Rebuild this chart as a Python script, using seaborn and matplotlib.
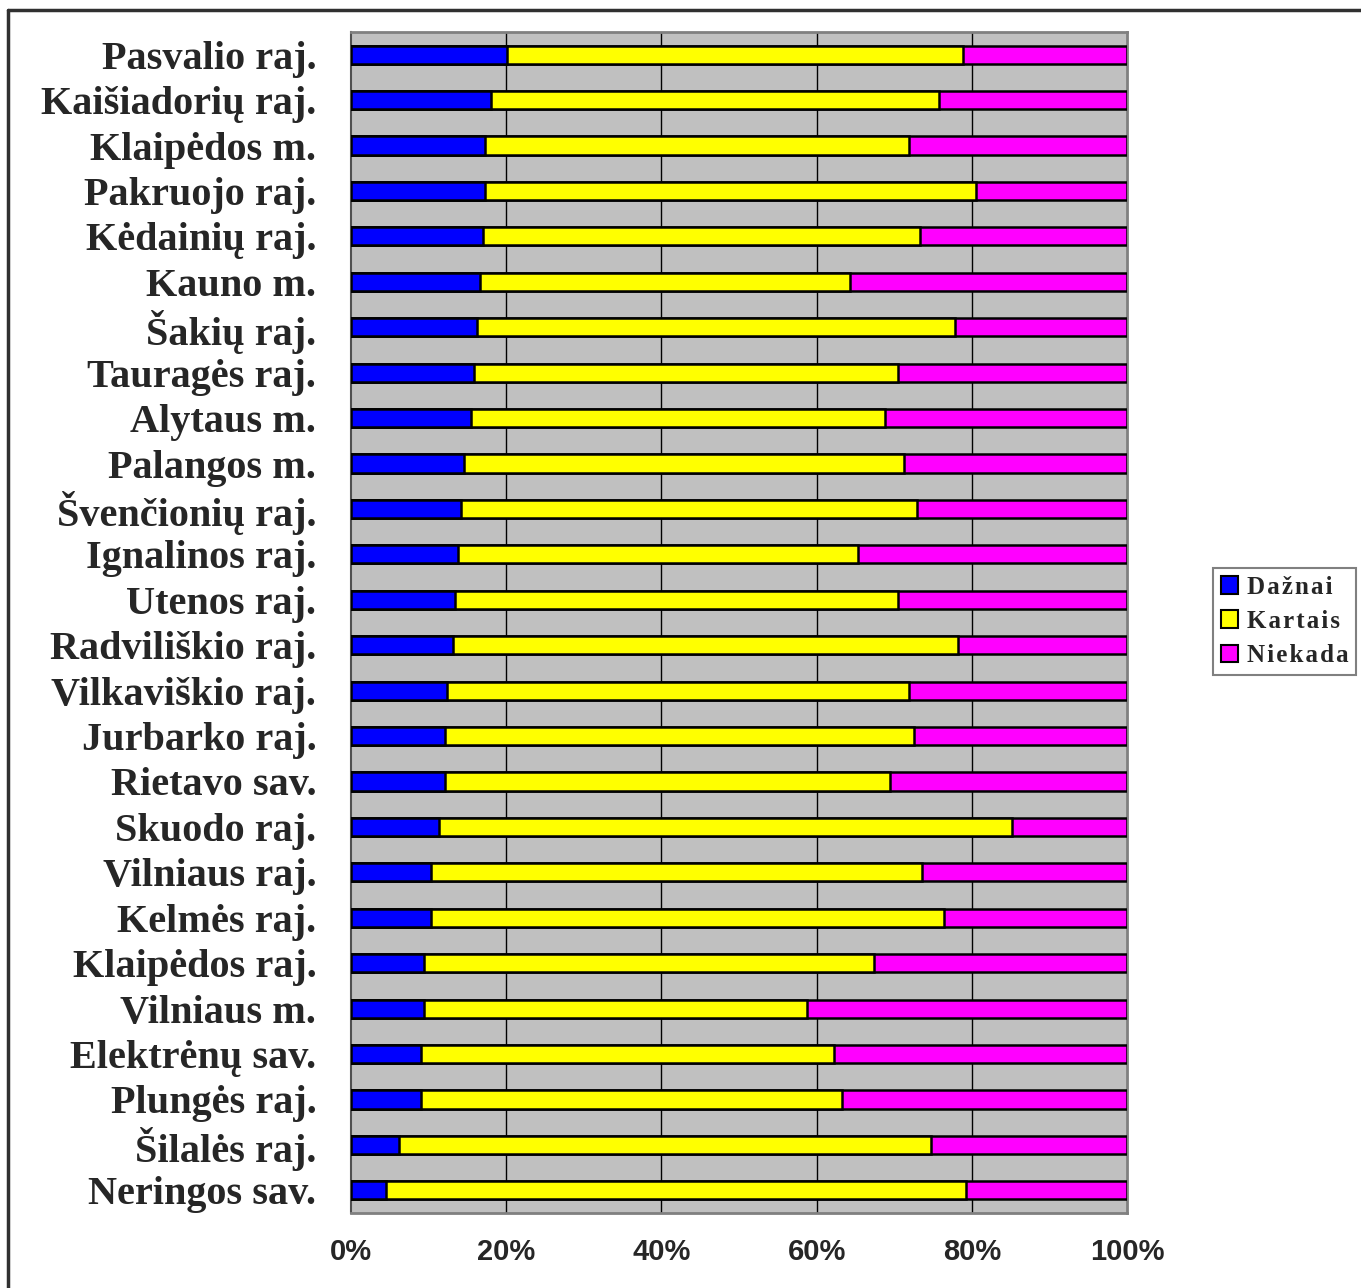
import matplotlib
matplotlib.use("Agg")
import matplotlib.pyplot as plt
from matplotlib.lines import Line2D
from matplotlib.patches import Patch
from matplotlib.ticker import FixedLocator
import seaborn as sns
import pandas as pd
import numpy as np

categories = ["Pasvalio raj.", "Kaišiadorių raj.", "Klaipėdos m.", "Pakruojo raj.",
              "Kėdainių raj.", "Kauno m.", "Šakių raj.", "Tauragės raj.", "Alytaus m.",
              "Palangos m.", "Švenčionių raj.", "Ignalinos raj.", "Utenos raj.",
              "Radviliškio raj.", "Vilkaviškio raj.", "Jurbarko raj.", "Rietavo sav.",
              "Skuodo raj.", "Vilniaus raj.", "Kelmės raj.", "Klaipėdos raj.",
              "Vilniaus m.", "Elektrėnų sav.", "Plungės raj.", "Šilalės raj.", "Neringos sav."]
daznai = [20.1, 18.0, 17.3, 17.3, 17.0, 16.6, 16.2, 15.9, 15.5, 14.6, 14.2, 13.8, 13.4,
          13.1, 12.4, 12.1, 12.1, 11.3, 10.3, 10.3, 9.4, 9.4, 9.0, 9.0, 6.2, 4.5]
kartais = [58.8, 57.8, 54.6, 63.2, 56.3, 47.7, 61.6, 54.6, 53.3, 56.7, 58.7, 51.5, 57.1,
           65.1, 59.5, 60.5, 57.4, 73.9, 63.3, 66.1, 58.0, 49.4, 53.2, 54.3, 68.5, 74.8]
niekada = [100 - d - k for d, k in zip(daznai, kartais)]
series_names = ["Dažnai", "Kartais", "Niekada"]
xticks = [0, 20, 40, 60, 80, 100]

df = pd.DataFrame({"cat": categories, "d": daznai, "k": kartais, "n": niekada})
df["dk"] = df["d"] + df["k"]
df["all"] = df["dk"] + df["n"]

sns.set_style("white")
plt.rcParams["font.family"] = ["Liberation Serif", "DejaVu Serif"]

W, H = 1361, 1288
fig = plt.figure(figsize=(W / 100, H / 100), dpi=100)
ax = fig.add_axes([351 / W, 1 - 1213 / H, (1127 - 351) / W, (1213 - 32) / H])
ax.set_facecolor("#c0c0c0")

colors = ["#0000ff", "#ffff00", "#ff00ff"]
for col, c in [("all", colors[2]), ("dk", colors[1]), ("d", colors[0])]:
    sns.barplot(data=df, x=col, y="cat", orient="h", color=c, saturation=1,
                width=0.4, edgecolor="black", linewidth=1.8, ax=ax, zorder=3)

ax.set_xlim(0, 100)
ax.set_ylim(len(categories) - 0.5, -0.5)
for v in xticks[1:-1]:
    ax.axvline(v, color="black", linewidth=1.0, zorder=1)

ax.set_xticks(xticks)
ax.set_xticklabels([f"{v}%" for v in xticks], fontfamily="Liberation Sans",
                   fontweight="bold", fontsize=21)
ax.tick_params(axis="x", direction="out", length=8, width=1, color="black", pad=10)
ax.set_yticks(range(len(categories)))
ax.set_yticklabels(categories, fontsize=29, fontweight="bold")
ax.tick_params(axis="y", which="major", length=0, pad=25)
ax.yaxis.set_minor_locator(FixedLocator(np.arange(-0.5, len(categories), 1.0)))
ax.tick_params(axis="y", which="minor", direction="out", length=12, width=1.2, color="#606060")
ax.set_xlabel("")
ax.set_ylabel("")

for side in ["top", "right", "bottom"]:
    ax.spines[side].set_visible(True)
    ax.spines[side].set_color("#808080")
    ax.spines[side].set_linewidth(2)
ax.spines["left"].set_color("#505050")
ax.spines["left"].set_linewidth(1.5)

handles = [Patch(facecolor=c, edgecolor="black", linewidth=1.5) for c in colors]
leg = fig.legend(handles, ["\u200a".join(s) for s in series_names], loc="upper left",
                 bbox_to_anchor=(1213 / W, 1 - 568 / H), frameon=True, fancybox=False,
                 prop={"family": "Liberation Serif", "weight": "bold", "size": 18},
                 handlelength=0.7, handleheight=0.7, handletextpad=0.35,
                 borderpad=0.3, labelspacing=0.45, borderaxespad=0)
leg.get_frame().set_edgecolor("#606060")
leg.get_frame().set_linewidth(1.5)

fig.add_artist(Line2D([8 / W, 8 / W], [0, 1 - 10 / H], color="#303030", linewidth=2.5,
                      transform=fig.transFigure))
fig.add_artist(Line2D([8 / W, 1], [1 - 10 / H, 1 - 10 / H], color="#303030", linewidth=2.5,
                      transform=fig.transFigure))

fig.savefig("out.png", dpi=100)
